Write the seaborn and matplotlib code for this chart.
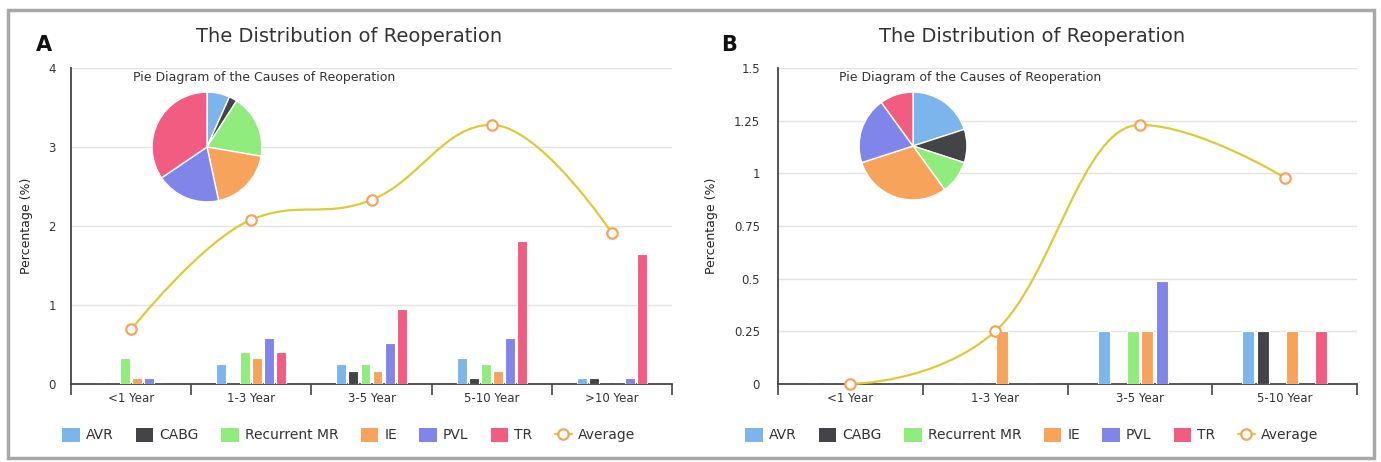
import numpy as np
import pandas as pd
import matplotlib
matplotlib.use("Agg")
import matplotlib.pyplot as plt
import seaborn as sns
from matplotlib.path import Path
from matplotlib.patches import PathPatch, Rectangle, Patch
from matplotlib.lines import Line2D

# ---------------- data ----------------
causes = ["AVR", "CABG", "Recurrent MR", "IE", "PVL", "TR"]
colors = ["#7cb5ec", "#434348", "#90ed7d", "#f7a35c", "#8085e9", "#f15c80"]

periods_a = ["<1 Year", "1-3 Year", "3-5 Year", "5-10 Year", ">10 Year"]
avr_a = [0, 0.25, 0.25, 0.33, 0.08]
cabg_a = [0, 0, 0.16, 0.08, 0.08]
mr_a = [0.33, 0.41, 0.25, 0.25, 0]
ie_a = [0.08, 0.33, 0.16, 0.16, 0]
pvl_a = [0.08, 0.58, 0.52, 0.58, 0.08]
tr_a = [0, 0.41, 0.95, 1.81, 1.64]
avg_a = [0.69, 2.08, 2.33, 3.28, 1.91]
pie_a = [6.7, 2.4, 18.6, 18.9, 18.9, 34.5]
yticks_a = [0, 1, 2, 3, 4]
ylabels_a = ["0", "1", "2", "3", "4"]

periods_b = ["<1 Year", "1-3 Year", "3-5 Year", "5-10 Year"]
avr_b = [0, 0, 0.25, 0.25]
cabg_b = [0, 0, 0, 0.25]
mr_b = [0, 0, 0.25, 0]
ie_b = [0, 0.25, 0.25, 0.25]
pvl_b = [0, 0, 0.49, 0]
tr_b = [0, 0, 0, 0.25]
avg_b = [0, 0.25, 1.23, 0.98]
pie_b = [20, 10, 10, 30, 20, 10]
yticks_b = [0, 0.25, 0.5, 0.75, 1, 1.25, 1.5]
ylabels_b = ["0", "0.25", "0.5", "0.75", "1", "1.25", "1.5"]

title = "The Distribution of Reoperation"
pie_title = "Pie Diagram of the Causes of Reoperation"
ylabel = "Percentage (%)"

LINE_C = "#dccb38"
MARK_C = "#f7a35c"
TXT = "#333333"

sns.set_theme(style="white")
plt.rcParams["font.family"] = ["DejaVu Sans"]

W, H = 1381, 462
fig = plt.figure(figsize=(W / 100, H / 100), dpi=100)


def fx(px):
    return px / W


def fy(py):
    return 1 - py / H


def spline_path(xs, ys, smoothing=1.5):
    n = len(xs)
    lc = [(xs[i], ys[i]) for i in range(n)]
    rc = [(xs[i], ys[i]) for i in range(n)]
    d = smoothing + 1
    for i in range(1, n - 1):
        lx, ly = xs[i - 1], ys[i - 1]
        nx, ny = xs[i + 1], ys[i + 1]
        px, py = xs[i], ys[i]
        lcx = (smoothing * px + lx) / d
        lcy = (smoothing * py + ly) / d
        rcx = (smoothing * px + nx) / d
        rcy = (smoothing * py + ny) / d
        if rcx != lcx:
            corr = ((rcy - lcy) * (rcx - px)) / (rcx - lcx) + py - rcy
            lcy += corr
            rcy += corr
        if lcy > ly and lcy > py:
            lcy = max(ly, py)
            rcy = 2 * py - lcy
        elif lcy < ly and lcy < py:
            lcy = min(ly, py)
            rcy = 2 * py - lcy
        if rcy > ny and rcy > py:
            rcy = max(ny, py)
            lcy = 2 * py - rcy
        elif rcy < ny and rcy < py:
            rcy = min(ny, py)
            lcy = 2 * py - rcy
        lc[i] = (lcx, lcy)
        rc[i] = (rcx, rcy)
    verts = [(xs[0], ys[0])]
    codes = [Path.MOVETO]
    for i in range(1, n):
        verts += [rc[i - 1], lc[i], (xs[i], ys[i])]
        codes += [Path.CURVE4] * 3
    return Path(verts, codes)


def panel(ax_rect, periods, series, avg, pie_vals, yticks, ylabels, ypad,
          ylab_x, pie_center, pie_r, pie_title_c, panel_c, letter, letter_x):
    ax = fig.add_axes(ax_rect)
    rows = []
    for c, vals in zip(causes, series):
        for p, v in zip(periods, vals):
            rows.append({"period": p, "cause": c, "value": v})
    df = pd.DataFrame(rows)
    sns.barplot(data=df, x="period", y="value", hue="cause", order=periods,
                hue_order=causes, palette=colors, saturation=1, width=0.6,
                gap=0.17, edgecolor="white", linewidth=0.8, legend=False,
                ax=ax, zorder=3)
    n = len(periods)
    xs = np.arange(n, dtype=float)
    path = spline_path(list(xs), list(avg))
    ax.add_patch(PathPatch(path, facecolor="none", edgecolor=LINE_C, lw=1.6,
                           zorder=4, clip_on=False))
    ax.plot(xs, avg, linestyle="none", marker="o", ms=7.5, mfc="white",
            mec=MARK_C, mew=1.6, zorder=5, clip_on=False)
    ax.set_xlim(-0.5, n - 0.5)
    ax.set_ylim(yticks[0], yticks[-1])
    ax.set_yticks(yticks)
    ax.set_yticklabels(ylabels)
    ax.set_xticks(xs)
    ax.set_xticklabels(periods)
    ax.set_xticks(np.arange(-0.5, n, 1.0), minor=True)
    ax.tick_params(axis="x", which="major", length=0, pad=6, labelsize=8.5,
                   labelcolor=TXT)
    ax.tick_params(axis="x", which="minor", length=8, width=1.2,
                   color="#444444", direction="out", bottom=True)
    ax.tick_params(axis="y", length=0, pad=ypad, labelsize=8.5,
                   labelcolor=TXT)
    ax.grid(axis="y", color="#e3e3e3", lw=1, zorder=0)
    ax.set_axisbelow(True)
    for s in ["top", "right"]:
        ax.spines[s].set_visible(False)
    for s in ["left", "bottom"]:
        ax.spines[s].set_color("#444444")
        ax.spines[s].set_linewidth(1.3)
    ax.set_xlabel("")
    ax.set_ylabel(ylabel, fontsize=9, color="#222222")
    ax.yaxis.set_label_coords(ylab_x, 0.5)

    # pie inset
    cx, cy = pie_center
    pax = fig.add_axes([fx(cx - pie_r), fy(cy + pie_r), 2 * pie_r / W,
                        2 * pie_r / H])
    pax.pie(pie_vals, colors=colors, startangle=90, counterclock=False,
            wedgeprops=dict(edgecolor="white", linewidth=1.0))
    pax.set_xlim(-1.02, 1.02)
    pax.set_ylim(-1.02, 1.02)
    pax.set_axis_off()
    fig.text(fx(pie_title_c), fy(77), pie_title, ha="center", va="center",
             fontsize=9, color=TXT)

    fig.text(fx(panel_c), fy(37), title, ha="center", va="center",
             fontsize=14, color=TXT)
    fig.text(fx(letter_x), fy(45), letter, ha="center", va="center",
             fontsize=15, fontweight="bold", color="#111111")

    handles = [Patch(facecolor=c, edgecolor="none") for c in colors]
    handles.append(Line2D([], [], color=LINE_C, lw=1.6, marker="o", ms=7.5,
                          mfc="white", mec=MARK_C, mew=1.6))
    fig.legend(handles, causes + ["Average"], loc="center",
               bbox_to_anchor=(fx(panel_c), fy(435)), ncol=7, frameon=False,
               fontsize=10, labelcolor=TXT, handlelength=1.25,
               handleheight=1.2, handletextpad=0.45, columnspacing=1.6)
    return ax


panel([fx(71), fy(384), (672 - 71) / W, (384 - 68) / H], periods_a,
      [avr_a, cabg_a, mr_a, ie_a, pvl_a, tr_a], avg_a, pie_a,
      yticks_a, ylabels_a, 11, -0.063, (207, 147), 56, 264, 349, "A", 44)

panel([fx(778), fy(384), (1357 - 778) / W, (384 - 68) / H], periods_b,
      [avr_b, cabg_b, mr_b, ie_b, pvl_b, tr_b], avg_b, pie_b,
      yticks_b, ylabels_b, 13, -0.104, (913, 146), 55, 970, 1032, "B", 729)

fig.patches.append(Rectangle((fx(8), fy(458)), fx(1374) - fx(8),
                             fy(10) - fy(458), transform=fig.transFigure,
                             fill=False, edgecolor="#a8a8a8", lw=2.5))

fig.savefig("out.png", dpi=100)
